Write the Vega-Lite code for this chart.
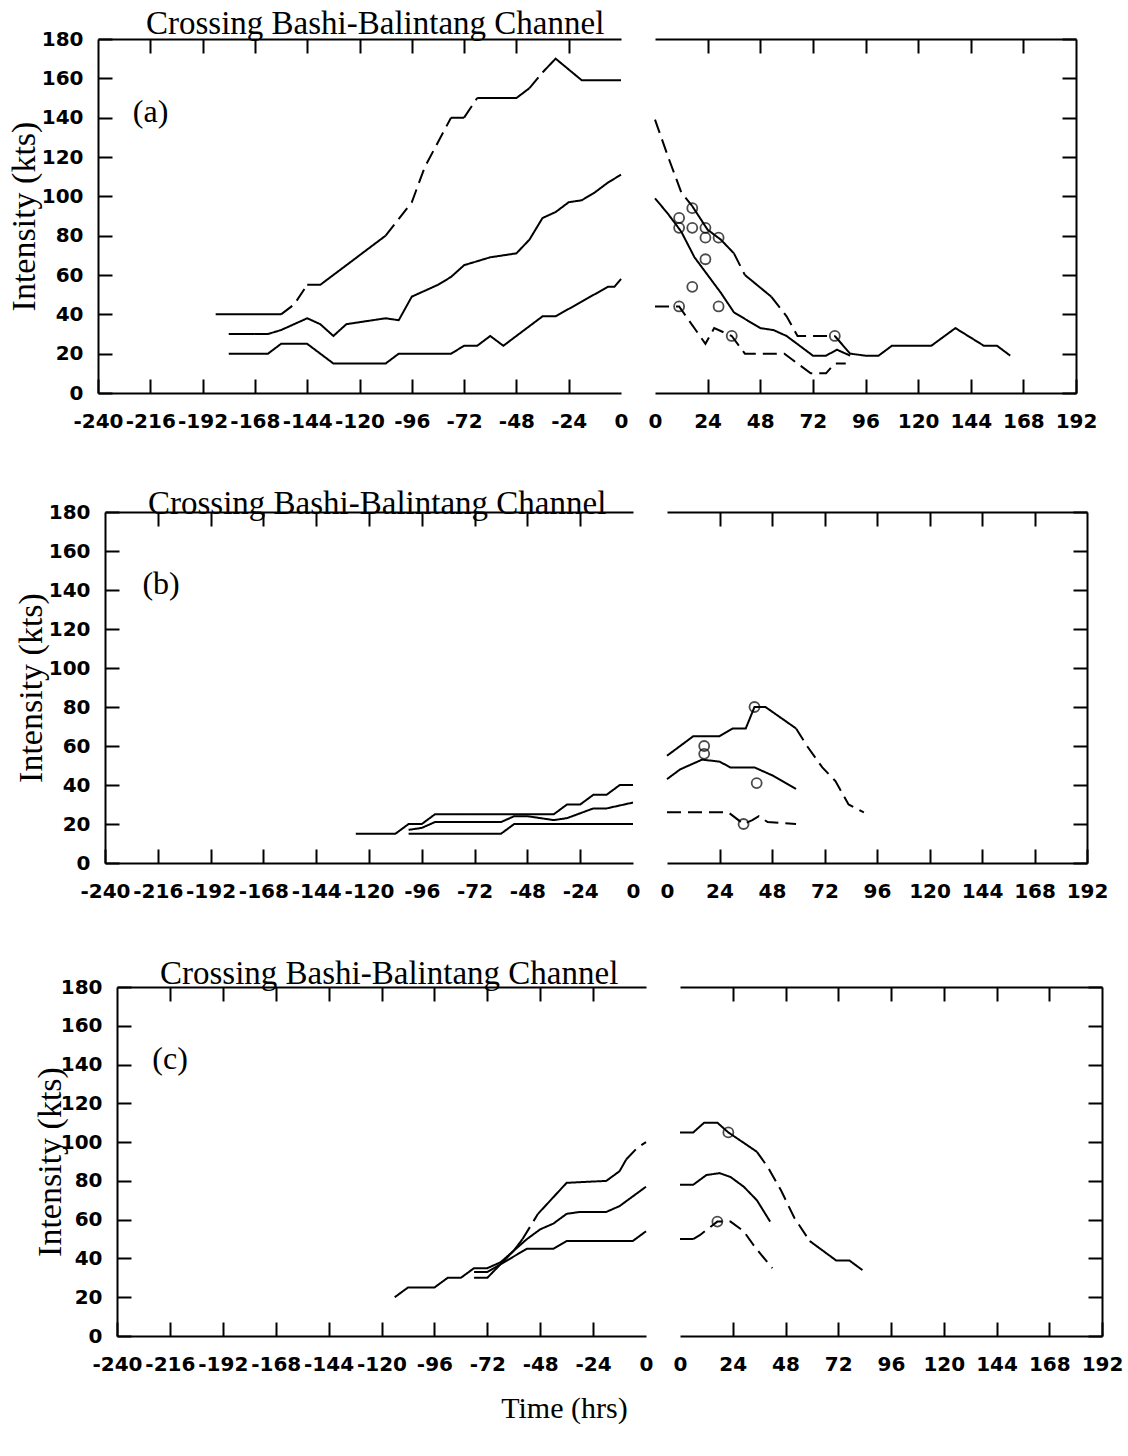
{
  "$schema": "https://vega.github.io/schema/vega-lite/v6.json",
  "padding": {"left": 6, "top": 8, "right": 2, "bottom": 5},
  "background": "white",
  "config": {
    "view": {"stroke": null},
    "axis": {"domainColor": "black", "domainWidth": 2, "tickColor": "black", "tickWidth": 2, "labelFont": "DejaVu Sans", "labelFontWeight": "bold", "labelFontSize": 20, "labelColor": "black", "grid": false, "labelFlush": false, "labelOverlap": false, "labelExpr": "replace(datum.label, '\u2212', '-')", "titleFont": "Liberation Serif", "titleFontSize": 34, "titleFontWeight": "normal", "titleColor": "black"},
    "axisX": {"tickSize": -14, "labelPadding": 32},
    "axisY": {"tickSize": -14, "labelPadding": 29}
  },
  "title": {"text": "Time (hrs)", "orient": "bottom", "anchor": "middle", "font": "Liberation Serif", "fontSize": 30, "fontWeight": "normal", "color": "black", "offset": 20},
  "datasets": {
    "lines": [
      {"panel":"a","side":"L","seg":"au1","style":"solid","x":-186,"y":40},{"panel":"a","side":"L","seg":"au1","style":"solid","x":-156,"y":40},
      {"panel":"a","side":"L","seg":"au2","style":"dashed","x":-156,"y":40},{"panel":"a","side":"L","seg":"au2","style":"dashed","x":-150,"y":45},{"panel":"a","side":"L","seg":"au2","style":"dashed","x":-144,"y":55},
      {"panel":"a","side":"L","seg":"au3","style":"solid","x":-144,"y":55},{"panel":"a","side":"L","seg":"au3","style":"solid","x":-138,"y":55},{"panel":"a","side":"L","seg":"au3","style":"solid","x":-132,"y":60},{"panel":"a","side":"L","seg":"au3","style":"solid","x":-120,"y":70},{"panel":"a","side":"L","seg":"au3","style":"solid","x":-108,"y":80},
      {"panel":"a","side":"L","seg":"au4","style":"dashed","x":-108,"y":80},{"panel":"a","side":"L","seg":"au4","style":"dashed","x":-96,"y":97},{"panel":"a","side":"L","seg":"au4","style":"dashed","x":-90,"y":115},{"panel":"a","side":"L","seg":"au4","style":"dashed","x":-78,"y":140},
      {"panel":"a","side":"L","seg":"au5","style":"solid","x":-78,"y":140},{"panel":"a","side":"L","seg":"au5","style":"solid","x":-72,"y":140},
      {"panel":"a","side":"L","seg":"au6","style":"dashed","x":-72,"y":140},{"panel":"a","side":"L","seg":"au6","style":"dashed","x":-66,"y":150},
      {"panel":"a","side":"L","seg":"au7","style":"solid","x":-66,"y":150},{"panel":"a","side":"L","seg":"au7","style":"solid","x":-48,"y":150},{"panel":"a","side":"L","seg":"au7","style":"solid","x":-42,"y":155},
      {"panel":"a","side":"L","seg":"au8","style":"dashed","x":-42,"y":155},{"panel":"a","side":"L","seg":"au8","style":"dashed","x":-36,"y":163},
      {"panel":"a","side":"L","seg":"au9","style":"solid","x":-36,"y":163},{"panel":"a","side":"L","seg":"au9","style":"solid","x":-30,"y":170},{"panel":"a","side":"L","seg":"au9","style":"solid","x":-18,"y":159},{"panel":"a","side":"L","seg":"au9","style":"solid","x":0,"y":159},
      {"panel":"a","side":"L","seg":"am","style":"solid","x":-180,"y":30},{"panel":"a","side":"L","seg":"am","style":"solid","x":-162,"y":30},{"panel":"a","side":"L","seg":"am","style":"solid","x":-156,"y":32},{"panel":"a","side":"L","seg":"am","style":"solid","x":-144,"y":38},{"panel":"a","side":"L","seg":"am","style":"solid","x":-138,"y":35},{"panel":"a","side":"L","seg":"am","style":"solid","x":-132,"y":29},{"panel":"a","side":"L","seg":"am","style":"solid","x":-126,"y":35},{"panel":"a","side":"L","seg":"am","style":"solid","x":-120,"y":36},{"panel":"a","side":"L","seg":"am","style":"solid","x":-108,"y":38},{"panel":"a","side":"L","seg":"am","style":"solid","x":-102,"y":37},{"panel":"a","side":"L","seg":"am","style":"solid","x":-96,"y":49},{"panel":"a","side":"L","seg":"am","style":"solid","x":-84,"y":55},{"panel":"a","side":"L","seg":"am","style":"solid","x":-78,"y":59},{"panel":"a","side":"L","seg":"am","style":"solid","x":-72,"y":65},{"panel":"a","side":"L","seg":"am","style":"solid","x":-60,"y":69},{"panel":"a","side":"L","seg":"am","style":"solid","x":-54,"y":70},{"panel":"a","side":"L","seg":"am","style":"solid","x":-48,"y":71},{"panel":"a","side":"L","seg":"am","style":"solid","x":-42,"y":78},{"panel":"a","side":"L","seg":"am","style":"solid","x":-36,"y":89},{"panel":"a","side":"L","seg":"am","style":"solid","x":-30,"y":92},{"panel":"a","side":"L","seg":"am","style":"solid","x":-24,"y":97},{"panel":"a","side":"L","seg":"am","style":"solid","x":-18,"y":98},{"panel":"a","side":"L","seg":"am","style":"solid","x":-12,"y":102},{"panel":"a","side":"L","seg":"am","style":"solid","x":-6,"y":107},{"panel":"a","side":"L","seg":"am","style":"solid","x":0,"y":111},
      {"panel":"a","side":"L","seg":"al","style":"solid","x":-180,"y":20},{"panel":"a","side":"L","seg":"al","style":"solid","x":-162,"y":20},{"panel":"a","side":"L","seg":"al","style":"solid","x":-156,"y":25},{"panel":"a","side":"L","seg":"al","style":"solid","x":-144,"y":25},{"panel":"a","side":"L","seg":"al","style":"solid","x":-132,"y":15},{"panel":"a","side":"L","seg":"al","style":"solid","x":-108,"y":15},{"panel":"a","side":"L","seg":"al","style":"solid","x":-102,"y":20},{"panel":"a","side":"L","seg":"al","style":"solid","x":-78,"y":20},{"panel":"a","side":"L","seg":"al","style":"solid","x":-72,"y":24},{"panel":"a","side":"L","seg":"al","style":"solid","x":-66,"y":24},{"panel":"a","side":"L","seg":"al","style":"solid","x":-60,"y":29},{"panel":"a","side":"L","seg":"al","style":"solid","x":-54,"y":24},{"panel":"a","side":"L","seg":"al","style":"solid","x":-36,"y":39},{"panel":"a","side":"L","seg":"al","style":"solid","x":-30,"y":39},{"panel":"a","side":"L","seg":"al","style":"solid","x":-6,"y":54},{"panel":"a","side":"L","seg":"al","style":"solid","x":-3,"y":54},{"panel":"a","side":"L","seg":"al","style":"solid","x":0,"y":58},

      {"panel":"a","side":"R","seg":"aru1","style":"dashed","x":0,"y":139},{"panel":"a","side":"R","seg":"aru1","style":"dashed","x":6,"y":120},{"panel":"a","side":"R","seg":"aru1","style":"dashed","x":12,"y":102},{"panel":"a","side":"R","seg":"aru1","style":"dashed","x":17,"y":95},
      {"panel":"a","side":"R","seg":"aru2","style":"solid","x":17,"y":95},{"panel":"a","side":"R","seg":"aru2","style":"solid","x":24,"y":83},{"panel":"a","side":"R","seg":"aru2","style":"solid","x":30,"y":78},{"panel":"a","side":"R","seg":"aru2","style":"solid","x":36,"y":71},
      {"panel":"a","side":"R","seg":"aru3","style":"dashed","x":36,"y":71},{"panel":"a","side":"R","seg":"aru3","style":"dashed","x":41,"y":60},
      {"panel":"a","side":"R","seg":"aru4","style":"solid","x":41,"y":60},{"panel":"a","side":"R","seg":"aru4","style":"solid","x":53,"y":49},
      {"panel":"a","side":"R","seg":"aru5","style":"dashed","x":53,"y":49},{"panel":"a","side":"R","seg":"aru5","style":"dashed","x":60,"y":39},{"panel":"a","side":"R","seg":"aru5","style":"dashed","x":65,"y":29},{"panel":"a","side":"R","seg":"aru5","style":"dashed","x":82,"y":29},
      {"panel":"a","side":"R","seg":"aru6","style":"solid","x":82,"y":29},{"panel":"a","side":"R","seg":"aru6","style":"solid","x":89,"y":20},{"panel":"a","side":"R","seg":"aru6","style":"solid","x":96,"y":19},{"panel":"a","side":"R","seg":"aru6","style":"solid","x":102,"y":19},{"panel":"a","side":"R","seg":"aru6","style":"solid","x":108,"y":24},{"panel":"a","side":"R","seg":"aru6","style":"solid","x":126,"y":24},{"panel":"a","side":"R","seg":"aru6","style":"solid","x":137,"y":33},{"panel":"a","side":"R","seg":"aru6","style":"solid","x":150,"y":24},{"panel":"a","side":"R","seg":"aru6","style":"solid","x":156,"y":24},{"panel":"a","side":"R","seg":"aru6","style":"solid","x":162,"y":19},
      {"panel":"a","side":"R","seg":"arm","style":"solid","x":0,"y":99},{"panel":"a","side":"R","seg":"arm","style":"solid","x":6,"y":91},{"panel":"a","side":"R","seg":"arm","style":"solid","x":12,"y":82},{"panel":"a","side":"R","seg":"arm","style":"solid","x":18,"y":69},{"panel":"a","side":"R","seg":"arm","style":"solid","x":24,"y":60},{"panel":"a","side":"R","seg":"arm","style":"solid","x":30,"y":51},{"panel":"a","side":"R","seg":"arm","style":"solid","x":36,"y":41},{"panel":"a","side":"R","seg":"arm","style":"solid","x":42,"y":37},{"panel":"a","side":"R","seg":"arm","style":"solid","x":48,"y":33},{"panel":"a","side":"R","seg":"arm","style":"solid","x":54,"y":32},{"panel":"a","side":"R","seg":"arm","style":"solid","x":60,"y":29},{"panel":"a","side":"R","seg":"arm","style":"solid","x":66,"y":24},{"panel":"a","side":"R","seg":"arm","style":"solid","x":72,"y":19},{"panel":"a","side":"R","seg":"arm","style":"solid","x":78,"y":19},{"panel":"a","side":"R","seg":"arm","style":"solid","x":83,"y":22},{"panel":"a","side":"R","seg":"arm","style":"solid","x":89,"y":19},
      {"panel":"a","side":"R","seg":"arl","style":"dashed","x":0,"y":44},{"panel":"a","side":"R","seg":"arl","style":"dashed","x":11,"y":44},{"panel":"a","side":"R","seg":"arl","style":"dashed","x":23,"y":25},{"panel":"a","side":"R","seg":"arl","style":"dashed","x":27,"y":33},{"panel":"a","side":"R","seg":"arl","style":"dashed","x":35,"y":29},{"panel":"a","side":"R","seg":"arl","style":"dashed","x":41,"y":20},{"panel":"a","side":"R","seg":"arl","style":"dashed","x":59,"y":20},{"panel":"a","side":"R","seg":"arl","style":"dashed","x":71,"y":10},{"panel":"a","side":"R","seg":"arl","style":"dashed","x":78,"y":10},{"panel":"a","side":"R","seg":"arl","style":"dashed","x":82,"y":15},{"panel":"a","side":"R","seg":"arl","style":"dashed","x":87,"y":15},

      {"panel":"b","side":"L","seg":"bu","style":"solid","x":-126,"y":15},{"panel":"b","side":"L","seg":"bu","style":"solid","x":-108,"y":15},{"panel":"b","side":"L","seg":"bu","style":"solid","x":-102,"y":20},{"panel":"b","side":"L","seg":"bu","style":"solid","x":-96,"y":20},{"panel":"b","side":"L","seg":"bu","style":"solid","x":-90,"y":25},{"panel":"b","side":"L","seg":"bu","style":"solid","x":-36,"y":25},{"panel":"b","side":"L","seg":"bu","style":"solid","x":-30,"y":30},{"panel":"b","side":"L","seg":"bu","style":"solid","x":-24,"y":30},{"panel":"b","side":"L","seg":"bu","style":"solid","x":-18,"y":35},{"panel":"b","side":"L","seg":"bu","style":"solid","x":-12,"y":35},{"panel":"b","side":"L","seg":"bu","style":"solid","x":-6,"y":40},{"panel":"b","side":"L","seg":"bu","style":"solid","x":0,"y":40},
      {"panel":"b","side":"L","seg":"bm","style":"solid","x":-102,"y":17},{"panel":"b","side":"L","seg":"bm","style":"solid","x":-96,"y":18},{"panel":"b","side":"L","seg":"bm","style":"solid","x":-90,"y":21},{"panel":"b","side":"L","seg":"bm","style":"solid","x":-60,"y":21},{"panel":"b","side":"L","seg":"bm","style":"solid","x":-54,"y":24},{"panel":"b","side":"L","seg":"bm","style":"solid","x":-48,"y":24},{"panel":"b","side":"L","seg":"bm","style":"solid","x":-36,"y":22},{"panel":"b","side":"L","seg":"bm","style":"solid","x":-30,"y":23},{"panel":"b","side":"L","seg":"bm","style":"solid","x":-18,"y":28},{"panel":"b","side":"L","seg":"bm","style":"solid","x":-12,"y":28},{"panel":"b","side":"L","seg":"bm","style":"solid","x":0,"y":31},
      {"panel":"b","side":"L","seg":"bl","style":"solid","x":-102,"y":15},{"panel":"b","side":"L","seg":"bl","style":"solid","x":-60,"y":15},{"panel":"b","side":"L","seg":"bl","style":"solid","x":-54,"y":20},{"panel":"b","side":"L","seg":"bl","style":"solid","x":0,"y":20},

      {"panel":"b","side":"R","seg":"bru1","style":"solid","x":0,"y":55},{"panel":"b","side":"R","seg":"bru1","style":"solid","x":12,"y":65},{"panel":"b","side":"R","seg":"bru1","style":"solid","x":24,"y":65},{"panel":"b","side":"R","seg":"bru1","style":"solid","x":30,"y":69},{"panel":"b","side":"R","seg":"bru1","style":"solid","x":36,"y":69},{"panel":"b","side":"R","seg":"bru1","style":"solid","x":40,"y":80},{"panel":"b","side":"R","seg":"bru1","style":"solid","x":45,"y":80},{"panel":"b","side":"R","seg":"bru1","style":"solid","x":59,"y":69},
      {"panel":"b","side":"R","seg":"bru2","style":"dashed","x":59,"y":69},{"panel":"b","side":"R","seg":"bru2","style":"dashed","x":64,"y":60},{"panel":"b","side":"R","seg":"bru2","style":"dashed","x":71,"y":49},{"panel":"b","side":"R","seg":"bru2","style":"dashed","x":77,"y":42},{"panel":"b","side":"R","seg":"bru2","style":"dashed","x":83,"y":30},{"panel":"b","side":"R","seg":"bru2","style":"dashed","x":90,"y":26},
      {"panel":"b","side":"R","seg":"brm","style":"solid","x":0,"y":43},{"panel":"b","side":"R","seg":"brm","style":"solid","x":6,"y":48},{"panel":"b","side":"R","seg":"brm","style":"solid","x":16,"y":53},{"panel":"b","side":"R","seg":"brm","style":"solid","x":24,"y":52},{"panel":"b","side":"R","seg":"brm","style":"solid","x":29,"y":49},{"panel":"b","side":"R","seg":"brm","style":"solid","x":40,"y":49},{"panel":"b","side":"R","seg":"brm","style":"solid","x":48,"y":45},{"panel":"b","side":"R","seg":"brm","style":"solid","x":59,"y":38},
      {"panel":"b","side":"R","seg":"brl","style":"dashed","x":0,"y":26},{"panel":"b","side":"R","seg":"brl","style":"dashed","x":28,"y":26},{"panel":"b","side":"R","seg":"brl","style":"dashed","x":35,"y":20},{"panel":"b","side":"R","seg":"brl","style":"dashed","x":39,"y":22},{"panel":"b","side":"R","seg":"brl","style":"dashed","x":42,"y":24},{"panel":"b","side":"R","seg":"brl","style":"dashed","x":46,"y":21},{"panel":"b","side":"R","seg":"brl","style":"dashed","x":59,"y":20},

      {"panel":"c","side":"L","seg":"cu1","style":"solid","x":-114,"y":20},{"panel":"c","side":"L","seg":"cu1","style":"solid","x":-108,"y":25},{"panel":"c","side":"L","seg":"cu1","style":"solid","x":-96,"y":25},{"panel":"c","side":"L","seg":"cu1","style":"solid","x":-90,"y":30},{"panel":"c","side":"L","seg":"cu1","style":"solid","x":-84,"y":30},{"panel":"c","side":"L","seg":"cu1","style":"solid","x":-78,"y":35},{"panel":"c","side":"L","seg":"cu1","style":"solid","x":-72,"y":35},{"panel":"c","side":"L","seg":"cu1","style":"solid","x":-66,"y":38},{"panel":"c","side":"L","seg":"cu1","style":"solid","x":-60,"y":44},{"panel":"c","side":"L","seg":"cu1","style":"solid","x":-56,"y":50},
      {"panel":"c","side":"L","seg":"cu2","style":"dashed","x":-56,"y":50},{"panel":"c","side":"L","seg":"cu2","style":"dashed","x":-49,"y":63},
      {"panel":"c","side":"L","seg":"cu3","style":"solid","x":-49,"y":63},{"panel":"c","side":"L","seg":"cu3","style":"solid","x":-36,"y":79},{"panel":"c","side":"L","seg":"cu3","style":"solid","x":-18,"y":80},{"panel":"c","side":"L","seg":"cu3","style":"solid","x":-12,"y":85},{"panel":"c","side":"L","seg":"cu3","style":"solid","x":-9,"y":91},
      {"panel":"c","side":"L","seg":"cu4","style":"dashed","x":-9,"y":91},{"panel":"c","side":"L","seg":"cu4","style":"dashed","x":-4,"y":97},{"panel":"c","side":"L","seg":"cu4","style":"dashed","x":0,"y":100},
      {"panel":"c","side":"L","seg":"cm","style":"solid","x":-78,"y":33},{"panel":"c","side":"L","seg":"cm","style":"solid","x":-72,"y":33},{"panel":"c","side":"L","seg":"cm","style":"solid","x":-66,"y":37},{"panel":"c","side":"L","seg":"cm","style":"solid","x":-60,"y":44},{"panel":"c","side":"L","seg":"cm","style":"solid","x":-54,"y":50},{"panel":"c","side":"L","seg":"cm","style":"solid","x":-48,"y":55},{"panel":"c","side":"L","seg":"cm","style":"solid","x":-42,"y":58},{"panel":"c","side":"L","seg":"cm","style":"solid","x":-36,"y":63},{"panel":"c","side":"L","seg":"cm","style":"solid","x":-30,"y":64},{"panel":"c","side":"L","seg":"cm","style":"solid","x":-18,"y":64},{"panel":"c","side":"L","seg":"cm","style":"solid","x":-12,"y":67},{"panel":"c","side":"L","seg":"cm","style":"solid","x":-6,"y":72},{"panel":"c","side":"L","seg":"cm","style":"solid","x":0,"y":77},
      {"panel":"c","side":"L","seg":"cl","style":"solid","x":-78,"y":30},{"panel":"c","side":"L","seg":"cl","style":"solid","x":-72,"y":30},{"panel":"c","side":"L","seg":"cl","style":"solid","x":-66,"y":37},{"panel":"c","side":"L","seg":"cl","style":"solid","x":-54,"y":45},{"panel":"c","side":"L","seg":"cl","style":"solid","x":-42,"y":45},{"panel":"c","side":"L","seg":"cl","style":"solid","x":-36,"y":49},{"panel":"c","side":"L","seg":"cl","style":"solid","x":-6,"y":49},{"panel":"c","side":"L","seg":"cl","style":"solid","x":0,"y":54},

      {"panel":"c","side":"R","seg":"cru1","style":"solid","x":0,"y":105},{"panel":"c","side":"R","seg":"cru1","style":"solid","x":6,"y":105},{"panel":"c","side":"R","seg":"cru1","style":"solid","x":11,"y":110},{"panel":"c","side":"R","seg":"cru1","style":"solid","x":17,"y":110},{"panel":"c","side":"R","seg":"cru1","style":"solid","x":22,"y":105},{"panel":"c","side":"R","seg":"cru1","style":"solid","x":35,"y":95},
      {"panel":"c","side":"R","seg":"cru2","style":"dashed","x":35,"y":95},{"panel":"c","side":"R","seg":"cru2","style":"dashed","x":40,"y":87},{"panel":"c","side":"R","seg":"cru2","style":"dashed","x":46,"y":75},{"panel":"c","side":"R","seg":"cru2","style":"dashed","x":52,"y":61},{"panel":"c","side":"R","seg":"cru2","style":"dashed","x":59,"y":49},
      {"panel":"c","side":"R","seg":"cru3","style":"solid","x":59,"y":49},{"panel":"c","side":"R","seg":"cru3","style":"solid","x":71,"y":39},{"panel":"c","side":"R","seg":"cru3","style":"solid","x":77,"y":39},{"panel":"c","side":"R","seg":"cru3","style":"solid","x":83,"y":34},
      {"panel":"c","side":"R","seg":"crm","style":"solid","x":0,"y":78},{"panel":"c","side":"R","seg":"crm","style":"solid","x":6,"y":78},{"panel":"c","side":"R","seg":"crm","style":"solid","x":12,"y":83},{"panel":"c","side":"R","seg":"crm","style":"solid","x":18,"y":84},{"panel":"c","side":"R","seg":"crm","style":"solid","x":23,"y":82},{"panel":"c","side":"R","seg":"crm","style":"solid","x":29,"y":77},{"panel":"c","side":"R","seg":"crm","style":"solid","x":35,"y":70},{"panel":"c","side":"R","seg":"crm","style":"solid","x":41,"y":59},
      {"panel":"c","side":"R","seg":"crl1","style":"solid","x":0,"y":50},{"panel":"c","side":"R","seg":"crl1","style":"solid","x":6,"y":50},
      {"panel":"c","side":"R","seg":"crl2","style":"dashed","x":6,"y":50},{"panel":"c","side":"R","seg":"crl2","style":"dashed","x":9,"y":52},{"panel":"c","side":"R","seg":"crl2","style":"dashed","x":17,"y":59},{"panel":"c","side":"R","seg":"crl2","style":"dashed","x":23,"y":59},{"panel":"c","side":"R","seg":"crl2","style":"dashed","x":29,"y":54},{"panel":"c","side":"R","seg":"crl2","style":"dashed","x":34,"y":46},{"panel":"c","side":"R","seg":"crl2","style":"dashed","x":42,"y":35}
    ],
    "circles": [
      {"panel":"a","x":11,"y":89},{"panel":"a","x":11,"y":84},{"panel":"a","x":17,"y":94},{"panel":"a","x":17,"y":84},{"panel":"a","x":23,"y":84},{"panel":"a","x":23,"y":79},{"panel":"a","x":29,"y":79},{"panel":"a","x":23,"y":68},{"panel":"a","x":17,"y":54},{"panel":"a","x":11,"y":44},{"panel":"a","x":29,"y":44},{"panel":"a","x":35,"y":29},{"panel":"a","x":82,"y":29},
      {"panel":"b","x":40,"y":80},{"panel":"b","x":17,"y":60},{"panel":"b","x":17,"y":56},{"panel":"b","x":41,"y":41},{"panel":"b","x":35,"y":20},
      {"panel":"c","x":22,"y":105},{"panel":"c","x":17,"y":59}
    ],
    "labels": [
      {"panel":"a","x":-224,"y":143,"label":"(a)"},
      {"panel":"b","x":-223,"y":143,"label":"(b)"},
      {"panel":"c","x":-224,"y":143,"label":"(c)"}
    ],
    "empty": []
  },
  "spacing": 57,
  "vconcat": [
    {"spacing": 0, "hconcat": [
      {"width": 1, "height": 354, "data": {"name": "empty"}, "mark": "point"},
      {"spacing": 20, "hconcat": [
      {"width": 523, "height": 354,
       "title": {"text": "Crossing Bashi-Balintang Channel", "anchor": "start", "frame": "group", "dx": 48, "offset": -12, "font": "Liberation Serif", "fontSize": 33, "fontWeight": "normal", "color": "black"},
       "layer": [
        {"data": {"name": "lines"}, "transform": [{"filter": "datum.panel === 'a' && datum.side === 'L'"}],
         "mark": {"type": "line", "color": "black", "strokeWidth": 2},
         "encoding": {
          "x": {"field": "x", "type": "quantitative", "scale": {"domain": [-240, 0], "nice": false, "zero": false}, "axis": {"orient": "bottom", "values": [-240,-216,-192,-168,-144,-120,-96,-72,-48,-24,0], "title": null, "tickOpacity": {"condition": {"test": "datum.value === 0", "value": 0}, "value": 1}}},
          "y": {"field": "y", "type": "quantitative", "scale": {"domain": [0, 180], "nice": false}, "axis": {"orient": "left", "values": [0,20,40,60,80,100,120,140,160,180], "title": "Intensity (kts)", "titlePadding": 0}},
          "detail": {"field": "seg"},
          "strokeDash": {"field": "style", "type": "nominal", "scale": {"domain": ["solid", "dashed"], "range": [[1, 0], [14, 7]]}, "legend": null}
         }},
        {"data": {"name": "labels"}, "transform": [{"filter": "datum.panel === 'a'"}],
         "mark": {"type": "text", "align": "left", "baseline": "middle", "font": "Liberation Serif", "fontSize": 32, "color": "black"},
         "encoding": {
          "x": {"field": "x", "type": "quantitative", "scale": {"domain": [-240, 0], "nice": false, "zero": false}, "axis": {"orient": "top", "values": [-216,-192,-168,-144,-120,-96,-72,-48,-24], "labels": false, "title": null}},
          "y": {"field": "y", "type": "quantitative", "scale": {"domain": [0, 180], "nice": false}, "axis": {"orient": "left", "values": [0,20,40,60,80,100,120,140,160,180], "title": "Intensity (kts)", "titlePadding": 0}},
          "text": {"field": "label"}
         }}
       ],
       "resolve": {"axis": {"x": "independent"}}
      },
      {"width": 421, "height": 354,
       "layer": [
        {"data": {"name": "lines"}, "transform": [{"filter": "datum.panel === 'a' && datum.side === 'R'"}],
         "mark": {"type": "line", "color": "black", "strokeWidth": 2},
         "encoding": {
          "x": {"field": "x", "type": "quantitative", "scale": {"domain": [0, 192], "nice": false, "zero": false}, "axis": {"orient": "bottom", "values": [0,24,48,72,96,120,144,168,192], "title": null, "tickOpacity": {"condition": {"test": "datum.value === 0", "value": 0}, "value": 1}}},
          "y": {"field": "y", "type": "quantitative", "scale": {"domain": [0, 180], "nice": false}, "axis": {"orient": "right", "values": [0,20,40,60,80,100,120,140,160,180], "labels": false, "title": null}},
          "detail": {"field": "seg"},
          "strokeDash": {"field": "style", "type": "nominal", "scale": {"domain": ["solid", "dashed"], "range": [[1, 0], [14, 7]]}, "legend": null}
         }},
        {"data": {"name": "circles"}, "transform": [{"filter": "datum.panel === 'a'"}],
         "mark": {"type": "point", "shape": "circle", "filled": false, "color": "black", "strokeWidth": 1.8, "size": 100},
         "encoding": {
          "x": {"field": "x", "type": "quantitative", "scale": {"domain": [0, 192], "nice": false, "zero": false}, "axis": {"orient": "top", "values": [24,48,72,96,120,144,168], "labels": false, "title": null}},
          "y": {"field": "y", "type": "quantitative", "scale": {"domain": [0, 180], "nice": false}, "axis": {"orient": "right", "values": [0,20,40,60,80,100,120,140,160,180], "labels": false, "title": null}}
         }}
       ],
       "resolve": {"axis": {"x": "independent"}}
      }
      ]}
    ]},
    {"spacing": 0, "hconcat": [
      {"width": 8, "height": 351, "data": {"name": "empty"}, "mark": "point"},
      {"spacing": 20, "hconcat": [
      {"width": 528, "height": 351,
       "title": {"text": "Crossing Bashi-Balintang Channel", "anchor": "start", "frame": "group", "dx": 43, "offset": -19, "font": "Liberation Serif", "fontSize": 33, "fontWeight": "normal", "color": "black"},
       "layer": [
        {"data": {"name": "lines"}, "transform": [{"filter": "datum.panel === 'b' && datum.side === 'L'"}],
         "mark": {"type": "line", "color": "black", "strokeWidth": 2},
         "encoding": {
          "x": {"field": "x", "type": "quantitative", "scale": {"domain": [-240, 0], "nice": false, "zero": false}, "axis": {"orient": "bottom", "values": [-240,-216,-192,-168,-144,-120,-96,-72,-48,-24,0], "title": null, "tickOpacity": {"condition": {"test": "datum.value === 0", "value": 0}, "value": 1}}},
          "y": {"field": "y", "type": "quantitative", "scale": {"domain": [0, 180], "nice": false}, "axis": {"orient": "left", "values": [0,20,40,60,80,100,120,140,160,180], "title": "Intensity (kts)", "titlePadding": 0}},
          "detail": {"field": "seg"},
          "strokeDash": {"field": "style", "type": "nominal", "scale": {"domain": ["solid", "dashed"], "range": [[1, 0], [14, 7]]}, "legend": null}
         }},
        {"data": {"name": "labels"}, "transform": [{"filter": "datum.panel === 'b'"}],
         "mark": {"type": "text", "align": "left", "baseline": "middle", "font": "Liberation Serif", "fontSize": 32, "color": "black"},
         "encoding": {
          "x": {"field": "x", "type": "quantitative", "scale": {"domain": [-240, 0], "nice": false, "zero": false}, "axis": {"orient": "top", "values": [-216,-192,-168,-144,-120,-96,-72,-48,-24], "labels": false, "title": null}},
          "y": {"field": "y", "type": "quantitative", "scale": {"domain": [0, 180], "nice": false}, "axis": {"orient": "left", "values": [0,20,40,60,80,100,120,140,160,180], "title": "Intensity (kts)", "titlePadding": 0}},
          "text": {"field": "label"}
         }}
       ],
       "resolve": {"axis": {"x": "independent"}}
      },
      {"width": 420, "height": 351,
       "layer": [
        {"data": {"name": "lines"}, "transform": [{"filter": "datum.panel === 'b' && datum.side === 'R'"}],
         "mark": {"type": "line", "color": "black", "strokeWidth": 2},
         "encoding": {
          "x": {"field": "x", "type": "quantitative", "scale": {"domain": [0, 192], "nice": false, "zero": false}, "axis": {"orient": "bottom", "values": [0,24,48,72,96,120,144,168,192], "title": null, "tickOpacity": {"condition": {"test": "datum.value === 0", "value": 0}, "value": 1}}},
          "y": {"field": "y", "type": "quantitative", "scale": {"domain": [0, 180], "nice": false}, "axis": {"orient": "right", "values": [0,20,40,60,80,100,120,140,160,180], "labels": false, "title": null}},
          "detail": {"field": "seg"},
          "strokeDash": {"field": "style", "type": "nominal", "scale": {"domain": ["solid", "dashed"], "range": [[1, 0], [14, 7]]}, "legend": null}
         }},
        {"data": {"name": "circles"}, "transform": [{"filter": "datum.panel === 'b'"}],
         "mark": {"type": "point", "shape": "circle", "filled": false, "color": "black", "strokeWidth": 1.8, "size": 100},
         "encoding": {
          "x": {"field": "x", "type": "quantitative", "scale": {"domain": [0, 192], "nice": false, "zero": false}, "axis": {"orient": "top", "values": [24,48,72,96,120,144,168], "labels": false, "title": null}},
          "y": {"field": "y", "type": "quantitative", "scale": {"domain": [0, 180], "nice": false}, "axis": {"orient": "right", "values": [0,20,40,60,80,100,120,140,160,180], "labels": false, "title": null}}
         }}
       ],
       "resolve": {"axis": {"x": "independent"}}
      }
      ]}
    ]},
    {"spacing": 0, "hconcat": [
      {"width": 27, "height": 349, "data": {"name": "empty"}, "mark": "point"},
      {"spacing": 20, "hconcat": [
      {"width": 529, "height": 349,
       "title": {"text": "Crossing Bashi-Balintang Channel", "anchor": "start", "frame": "group", "dx": 43, "offset": -14, "font": "Liberation Serif", "fontSize": 33, "fontWeight": "normal", "color": "black"},
       "layer": [
        {"data": {"name": "lines"}, "transform": [{"filter": "datum.panel === 'c' && datum.side === 'L'"}],
         "mark": {"type": "line", "color": "black", "strokeWidth": 2},
         "encoding": {
          "x": {"field": "x", "type": "quantitative", "scale": {"domain": [-240, 0], "nice": false, "zero": false}, "axis": {"orient": "bottom", "values": [-240,-216,-192,-168,-144,-120,-96,-72,-48,-24,0], "title": null, "tickOpacity": {"condition": {"test": "datum.value === 0", "value": 0}, "value": 1}}},
          "y": {"field": "y", "type": "quantitative", "scale": {"domain": [0, 180], "nice": false}, "axis": {"orient": "left", "values": [0,20,40,60,80,100,120,140,160,180], "title": "Intensity (kts)", "titlePadding": -7}},
          "detail": {"field": "seg"},
          "strokeDash": {"field": "style", "type": "nominal", "scale": {"domain": ["solid", "dashed"], "range": [[1, 0], [14, 7]]}, "legend": null}
         }},
        {"data": {"name": "labels"}, "transform": [{"filter": "datum.panel === 'c'"}],
         "mark": {"type": "text", "align": "left", "baseline": "middle", "font": "Liberation Serif", "fontSize": 32, "color": "black"},
         "encoding": {
          "x": {"field": "x", "type": "quantitative", "scale": {"domain": [-240, 0], "nice": false, "zero": false}, "axis": {"orient": "top", "values": [-216,-192,-168,-144,-120,-96,-72,-48,-24], "labels": false, "title": null}},
          "y": {"field": "y", "type": "quantitative", "scale": {"domain": [0, 180], "nice": false}, "axis": {"orient": "left", "values": [0,20,40,60,80,100,120,140,160,180], "title": "Intensity (kts)", "titlePadding": -7}},
          "text": {"field": "label"}
         }}
       ],
       "resolve": {"axis": {"x": "independent"}}
      },
      {"width": 422, "height": 349,
       "layer": [
        {"data": {"name": "lines"}, "transform": [{"filter": "datum.panel === 'c' && datum.side === 'R'"}],
         "mark": {"type": "line", "color": "black", "strokeWidth": 2},
         "encoding": {
          "x": {"field": "x", "type": "quantitative", "scale": {"domain": [0, 192], "nice": false, "zero": false}, "axis": {"orient": "bottom", "values": [0,24,48,72,96,120,144,168,192], "title": null, "tickOpacity": {"condition": {"test": "datum.value === 0", "value": 0}, "value": 1}}},
          "y": {"field": "y", "type": "quantitative", "scale": {"domain": [0, 180], "nice": false}, "axis": {"orient": "right", "values": [0,20,40,60,80,100,120,140,160,180], "labels": false, "title": null}},
          "detail": {"field": "seg"},
          "strokeDash": {"field": "style", "type": "nominal", "scale": {"domain": ["solid", "dashed"], "range": [[1, 0], [14, 7]]}, "legend": null}
         }},
        {"data": {"name": "circles"}, "transform": [{"filter": "datum.panel === 'c'"}],
         "mark": {"type": "point", "shape": "circle", "filled": false, "color": "black", "strokeWidth": 1.8, "size": 100},
         "encoding": {
          "x": {"field": "x", "type": "quantitative", "scale": {"domain": [0, 192], "nice": false, "zero": false}, "axis": {"orient": "top", "values": [24,48,72,96,120,144,168], "labels": false, "title": null}},
          "y": {"field": "y", "type": "quantitative", "scale": {"domain": [0, 180], "nice": false}, "axis": {"orient": "right", "values": [0,20,40,60,80,100,120,140,160,180], "labels": false, "title": null}}
         }}
       ],
       "resolve": {"axis": {"x": "independent"}}
      }
      ]}
    ]}
  ]
}
